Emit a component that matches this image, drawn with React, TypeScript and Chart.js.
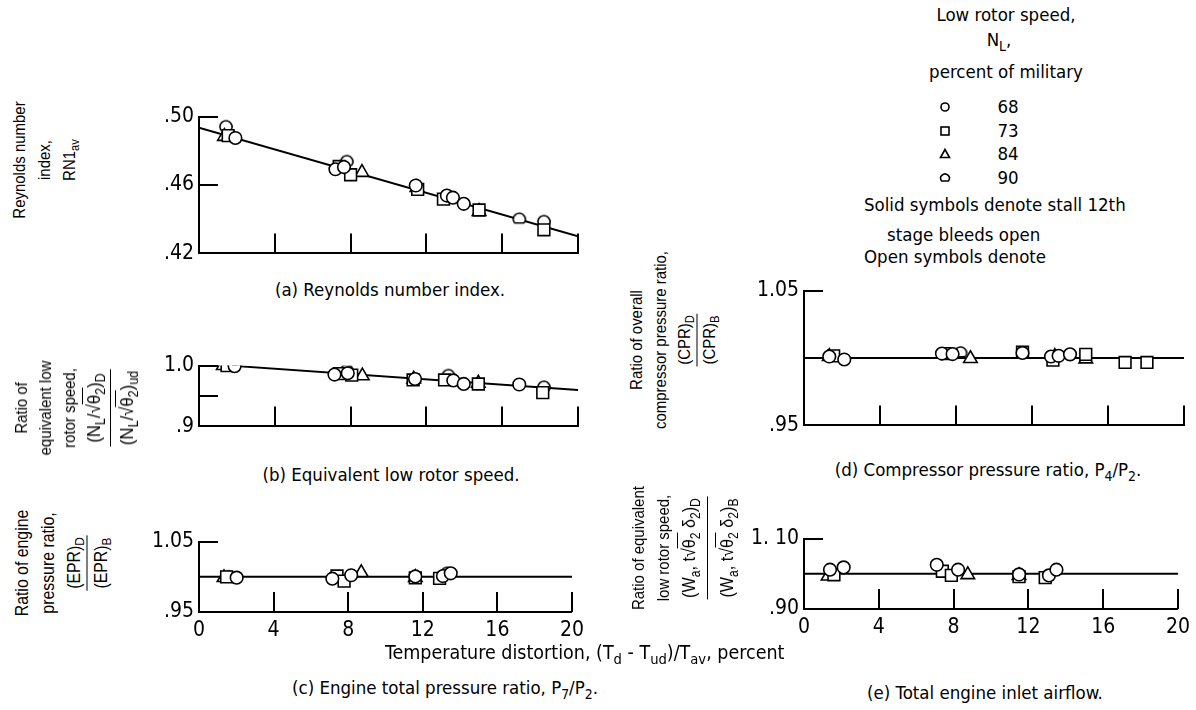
import React, { useEffect, useRef } from "react";
import { Chart, registerables } from "chart.js";
Chart.register(...registerables);

const NARROW = '"Liberation Sans Narrow", "DejaVu Sans Condensed", "Open Sans", sans-serif';
const SANS = '"Liberation Sans", "DejaVu Sans", sans-serif';

type Pt = [number, number];

// shared x axis
const xTickValues = [0, 4, 8, 12, 16, 20];
const xTickLabels = ["0", "4", "8", "12", "16", "20"];
const speedLabels = ["68", "73", "84", "90"];

// (a) Reynolds number index
const a68: Pt[] = [[1.92, 0.4875], [7.2, 0.4692], [7.65, 0.4705], [11.44, 0.4597], [13.08, 0.4538], [13.4, 0.4526], [13.97, 0.449]];
const a73: Pt[] = [[1.54, 0.4889], [7.4, 0.4708], [8.0, 0.466], [11.54, 0.4574], [12.9, 0.4517], [14.78, 0.4454], [18.2, 0.4338]];
const a84: Pt[] = [[1.34, 0.4884], [8.6, 0.4673], [11.5, 0.4585], [14.78, 0.4445]];
const a90: Pt[] = [[1.42, 0.4941], [7.8, 0.4737], [16.9, 0.44], [18.2, 0.4386]];
const aFit: Pt[] = [[0, 0.4935], [20, 0.43]];
const aYTicks = [0.42, 0.46, 0.5];
const aYLabels = [".42", ".46", ".50"];

// (b) Equivalent low rotor speed
const b68: Pt[] = [[1.88, 0.999], [7.15, 0.9853], [7.85, 0.9876], [11.4, 0.978], [13.42, 0.9756], [13.97, 0.9698], [16.9, 0.9689]];
const b73: Pt[] = [[1.48, 1.0], [7.4, 0.9867], [8.06, 0.9844], [11.3, 0.9764], [12.96, 0.9764], [14.74, 0.9698], [18.14, 0.9556]];
const b84: Pt[] = [[1.28, 1.0], [8.62, 0.9831], [11.33, 0.9778], [14.74, 0.971]];
const b90: Pt[] = [[1.58, 1.001], [7.8, 0.992], [13.16, 0.9836], [18.2, 0.9644]];
const bFit: Pt[] = [[1.6, 1.0], [20, 0.96]];
const bYTicks = [0.9, 0.95, 1.0];
const bYLabels = [".9", "", "1.0"];

// (c) Engine total pressure ratio
const c68: Pt[] = [[2.02, 0.9988], [7.15, 0.9973], [8.16, 1.0022], [11.6, 1.0005], [13.08, 1.001], [13.5, 1.005]];
const c73: Pt[] = [[1.48, 0.9998], [7.4, 1.0012], [7.78, 0.9939], [11.6, 0.9985], [12.9, 0.9978]];
const c84: Pt[] = [[1.34, 0.9988], [8.7, 1.006], [11.6, 0.999]];
const c90: Pt[] = [[1.58, 1.0], [13.3, 1.005]];
const cFit: Pt[] = [[0, 1.0], [20, 1.0]];
const cYTicks = [0.95, 1.05];
const cYLabels = [".95", "1.05"];

// (d) Compressor pressure ratio
const d68: Pt[] = [[1.33, 1.0011], [2.12, 0.9989], [7.26, 1.0033], [7.82, 1.0029], [11.5, 1.0038], [13.0, 1.0011], [13.4, 1.0016], [14.0, 1.0027]];
const d73: Pt[] = [[1.56, 1.0016], [7.5, 1.0033], [11.5, 1.0044], [13.1, 0.9984], [14.83, 1.0027], [16.9, 0.9967], [18.05, 0.9967]];
const d84: Pt[] = [[1.33, 1.0011], [8.76, 0.9996], [13.2, 1.0011], [14.83, 0.9993]];
const d90: Pt[] = [[8.24, 1.0038]];
const dFit: Pt[] = [[0, 1.0], [20, 1.0]];
const dYTicks = [0.95, 1.05];
const dYLabels = [".95", "1.05"];

// (e) Total engine inlet airflow
const e68: Pt[] = [[1.39, 1.0118], [2.12, 1.0182], [7.1, 1.0255], [8.24, 1.0118], [11.5, 0.998], [13.1, 0.9955], [13.5, 1.0118]];
const e73: Pt[] = [[1.6, 0.9973], [7.4, 1.0073], [7.88, 0.9955], [11.5, 0.9918], [12.9, 0.9891]];
const e84: Pt[] = [[1.29, 0.9936], [8.76, 0.9973], [11.5, 0.995]];
const e90: Pt[] = [[11.5, 0.999]];
const eFit: Pt[] = [[0, 1.0], [20, 1.0]];
const eYTicks = [0.9, 1.1];
const eYLabels = [".90", "1. 10"];

function makeFlatCircle(): HTMLCanvasElement {
  const c = document.createElement("canvas");
  c.width = 16;
  c.height = 16;
  const ctx = c.getContext("2d")!;
  ctx.fillStyle = "#fff";
  ctx.strokeStyle = "#000";
  ctx.lineWidth = 1.6;
  ctx.beginPath();
  ctx.arc(8, 8, 6, Math.PI * 0.78, Math.PI * 0.22);
  ctx.closePath();
  ctx.fill();
  ctx.stroke();
  return c;
}

const inTicksPlugin = {
  id: "inTicks",
  afterDraw(chart: any, _args: any, opts: any) {
    const { ctx, chartArea, scales } = chart;
    ctx.save();
    ctx.strokeStyle = "#000";
    ctx.lineWidth = 2;
    ctx.beginPath();
    for (const v of opts.y || []) {
      const py = Math.round(scales.y.getPixelForValue(v));
      ctx.moveTo(chartArea.left, py);
      ctx.lineTo(chartArea.left + 19, py);
    }
    for (const v of opts.x || []) {
      const px = Math.round(scales.x.getPixelForValue(v));
      ctx.moveTo(px, chartArea.bottom);
      ctx.lineTo(px, chartArea.bottom - 20);
    }
    ctx.stroke();
    ctx.restore();
  },
};

interface PanelProps {
  left: number;
  top: number;
  width: number;
  height: number;
  yMin: number;
  yMax: number;
  yTicks: number[];
  yLabels: string[];
  yMarks: number[];
  showX: boolean;
  series: Pt[][];
  fit: Pt[];
}

const PL = 72;
const PT = 14;
const PR = 12;

function Panel(p: PanelProps) {
  const ref = useRef<HTMLCanvasElement>(null);
  const PB = p.showX ? 34 : 6;
  const W = p.width + PL + PR;
  const H = p.height + PT + PB;
  useEffect(() => {
    const flat = makeFlatCircle();
    const styles: any[] = ["circle", "rect", "triangle", flat];
    const radii = [6.3, 8.3, 7.8, 7];
    const datasets: any[] = p.series.map((pts, i) => ({
      label: speedLabels[i],
      data: pts.map(([x, y]) => ({ x, y })),
      pointStyle: styles[i],
      pointRadius: radii[i],
      borderColor: "#000",
      backgroundColor: "#fff",
      borderWidth: 1.6,
      showLine: false,
      order: 1,
    }));
    datasets.push({
      label: "fit",
      data: p.fit.map(([x, y]) => ({ x, y })),
      showLine: true,
      pointRadius: 0,
      borderColor: "#000",
      borderWidth: 2,
      order: 5,
    });
    const chart = new Chart(ref.current!, {
      type: "scatter",
      data: { datasets },
      plugins: [inTicksPlugin],
      options: {
        responsive: false,
        animation: false,
        devicePixelRatio: 1,
        layout: { padding: { left: 0, top: PT, right: PR, bottom: 0 } },
        plugins: {
          legend: { display: false },
          tooltip: { enabled: false },
          inTicks: { y: p.yMarks, x: xTickValues.slice(1) },
        } as any,
        scales: {
          x: {
            type: "linear",
            min: 0,
            max: 20,
            grid: { display: false, drawTicks: false },
            border: { display: true, color: "#000", width: 2 },
            ticks: {
              display: p.showX,
              color: "#000",
              padding: 6,
              maxRotation: 0,
              font: { family: NARROW, size: 21 },
              callback: (v: any) => {
                const i = xTickValues.findIndex((t) => Math.abs(t - v) < 1e-6);
                return i >= 0 ? xTickLabels[i] : "";
              },
            },
            afterBuildTicks: (s: any) => {
              s.ticks = xTickValues.map((v) => ({ value: v }));
            },
            afterFit: (s: any) => {
              s.height = PB;
            },
          },
          y: {
            type: "linear",
            min: p.yMin,
            max: p.yMax,
            grid: { display: false, drawTicks: false },
            border: { display: true, color: "#000", width: 2 },
            ticks: {
              color: "#000",
              padding: 5,
              font: { family: NARROW, size: 21 },
              callback: (v: any) => {
                const i = p.yTicks.findIndex((t) => Math.abs(t - v) < 1e-6);
                return i >= 0 ? p.yLabels[i] : "";
              },
            },
            afterBuildTicks: (s: any) => {
              s.ticks = p.yTicks.map((v) => ({ value: v }));
            },
            afterFit: (s: any) => {
              s.width = PL;
            },
          },
        },
      },
    });
    return () => chart.destroy();
  }, []);
  return (
    <canvas
      ref={ref}
      width={W}
      height={H}
      style={{ position: "absolute", left: p.left - PL, top: p.top - PT, width: W, height: H }}
    />
  );
}

function Txt({ x, y, size = 18.5, family = NARROW, anchor = "center", children }: any) {
  const tx = anchor === "center" ? "-50%" : "0";
  return (
    <div
      style={{
        position: "absolute",
        left: x,
        top: y,
        transform: `translate(${tx},-50%)`,
        whiteSpace: "nowrap",
        fontFamily: family,
        fontSize: size,
        lineHeight: 1.1,
        color: "#000",
      }}
    >
      {children}
    </div>
  );
}

const subStyle: React.CSSProperties = { fontSize: "0.75em", verticalAlign: "-0.35em", lineHeight: 0 };
const Sub = ({ children }: any) => <sub style={subStyle}>{children}</sub>;
const Sq = ({ children }: any) => (
  <span>
    √<span style={{ borderTop: "1px solid #000" }}>{children}</span>
  </span>
);

function Frac({ num, den, gap = 2, scale = 1 }: any) {
  return (
    <div style={{ display: "inline-block", textAlign: "center", fontSize: `${scale}em` }}>
      <div style={{ padding: `0 2px ${gap}px` }}>{num}</div>
      <div style={{ borderTop: "1.6px solid #000", padding: `${gap}px 2px 0` }}>{den}</div>
    </div>
  );
}

function RotTitle({ cx, cy, lh = 25, size = 17, sx = 0.88, children }: any) {
  return (
    <div
      style={{
        position: "absolute",
        left: cx,
        top: cy,
        transform: `translate(-50%,-50%) rotate(-90deg) scaleX(${sx})`,
        whiteSpace: "nowrap",
        textAlign: "center",
        fontFamily: SANS,
        fontSize: size,
        lineHeight: `${lh}px`,
        color: "#000",
      }}
    >
      {children}
    </div>
  );
}

function Sym({ kind, x, y }: any) {
  let shape: any;
  if (kind === 0) shape = <circle cx="7" cy="7" r="4" />;
  else if (kind === 1) shape = <rect x="3" y="3" width="8" height="8" />;
  else if (kind === 2) shape = <polygon points="7,2.5 11.5,10.5 2.5,10.5" />;
  else shape = <path d="M3.6 10 A4.3 4.3 0 1 1 10.4 10 Z" />;
  return (
    <svg
      width="14"
      height="14"
      style={{ position: "absolute", left: x - 7, top: y - 7 }}
      fill="none"
      stroke="#000"
      strokeWidth="1.6"
    >
      {shape}
    </svg>
  );
}

export default function App() {
  const legendRows = [107, 131, 154, 178];
  return (
    <div
      style={{
        position: "absolute",
        left: 0,
        top: 0,
        width: 1196,
        height: 710,
        overflow: "hidden",
        background: "#fff",
      }}
    >
      <Panel left={199} top={113} width={379} height={152} yMin={0.42} yMax={0.5}
        yTicks={aYTicks} yLabels={aYLabels} yMarks={[0.46, 0.5]} showX={false}
        series={[a68, a73, a84, a90]} fit={aFit} />
      <Panel left={199} top={362} width={379} height={76} yMin={0.9} yMax={1.0}
        yTicks={bYTicks} yLabels={bYLabels} yMarks={[0.95, 1.0]} showX={false}
        series={[b68, b73, b84, b90]} fit={bFit} />
      <Panel left={199} top={538} width={379} height={74} yMin={0.95} yMax={1.05}
        yTicks={cYTicks} yLabels={cYLabels} yMarks={[1.05]} showX={true}
        series={[c68, c73, c84, c90]} fit={cFit} />
      <Panel left={804} top={287} width={380} height={150} yMin={0.95} yMax={1.05}
        yTicks={dYTicks} yLabels={dYLabels} yMarks={[1.05]} showX={false}
        series={[d68, d73, d84, d90]} fit={dFit} />
      <Panel left={804} top={535} width={380} height={74} yMin={0.9} yMax={1.1}
        yTicks={eYTicks} yLabels={eYLabels} yMarks={[1.1]} showX={true}
        series={[e68, e73, e84, e90]} fit={eFit} />

      {/* y-axis titles */}
      <RotTitle cx={44} cy={160}>
        <div>Reynolds number</div>
        <div>index,</div>
        <div>RN1<Sub>av</Sub></div>
      </RotTitle>
      <RotTitle cx={75} cy={408} lh={24}>
        <div>Ratio of</div>
        <div>equivalent low</div>
        <div>rotor speed,</div>
        <Frac
          gap={4}
          scale={1.12}
          num={<span>(N<Sub>L</Sub>/<Sq>θ<Sub>2</Sub></Sq>)<Sub>D</Sub></span>}
          den={<span>(N<Sub>L</Sub>/<Sq>θ<Sub>2</Sub></Sq>)<Sub>ud</Sub></span>}
        />
      </RotTitle>
      <RotTitle cx={61} cy={563} lh={26} size={18}>
        <div>Ratio of engine</div>
        <div>pressure ratio,</div>
        <Frac num={<span>(EPR)<Sub>D</Sub></span>} den={<span>(EPR)<Sub>B</Sub></span>} gap={0} />
      </RotTitle>
      <RotTitle cx={673} cy={340} lh={24}>
        <div>Ratio of overall</div>
        <div>compressor pressure ratio,</div>
        <Frac num={<span>(CPR)<Sub>D</Sub></span>} den={<span>(CPR)<Sub>B</Sub></span>} gap={0} />
      </RotTitle>
      <RotTitle cx={683} cy={548} lh={25}>
        <div>Ratio of equivalent</div>
        <div>low rotor speed,</div>
        <Frac
          gap={6}
          scale={1.08}
          num={<span>(W<Sub>a</Sub>, t<Sq>θ<Sub>2</Sub></Sq> δ<Sub>2</Sub>)<Sub>D</Sub></span>}
          den={<span>(W<Sub>a</Sub>, t<Sq>θ<Sub>2</Sub></Sq> δ<Sub>2</Sub>)<Sub>B</Sub></span>}
        />
      </RotTitle>

      {/* captions */}
      <Txt x={390} y={290}>(a) Reynolds number index.</Txt>
      <Txt x={391} y={475}>(b) Equivalent low rotor speed.</Txt>
      <Txt x={445} y={688}>(c) Engine total pressure ratio, P<Sub>7</Sub>/P<Sub>2</Sub>.</Txt>
      <Txt x={988} y={470}>(d) Compressor pressure ratio, P<Sub>4</Sub>/P<Sub>2</Sub>.</Txt>
      <Txt x={985} y={693}>(e) Total engine inlet airflow.</Txt>
      <Txt x={385} y={653} size={19.5} anchor="left">
        Temperature distortion, (T<Sub>d</Sub> - T<Sub>ud</Sub>)/T<Sub>av</Sub>, percent
      </Txt>

      {/* legend */}
      <Txt x={1006} y={15}>Low rotor speed,</Txt>
      <Txt x={999} y={40}>N<Sub>L</Sub>,</Txt>
      <Txt x={1006} y={72}>percent of military</Txt>
      {speedLabels.map((lab, i) => (
        <React.Fragment key={lab}>
          <Sym kind={i} x={945} y={legendRows[i]} />
          <Txt x={1008} y={legendRows[i]}>{lab}</Txt>
        </React.Fragment>
      ))}
      <Txt x={864} y={205} anchor="left">Solid symbols denote stall 12th</Txt>
      <Txt x={887} y={235} anchor="left">stage bleeds open</Txt>
      <Txt x={864} y={257} anchor="left">Open symbols denote</Txt>
    </div>
  );
}
